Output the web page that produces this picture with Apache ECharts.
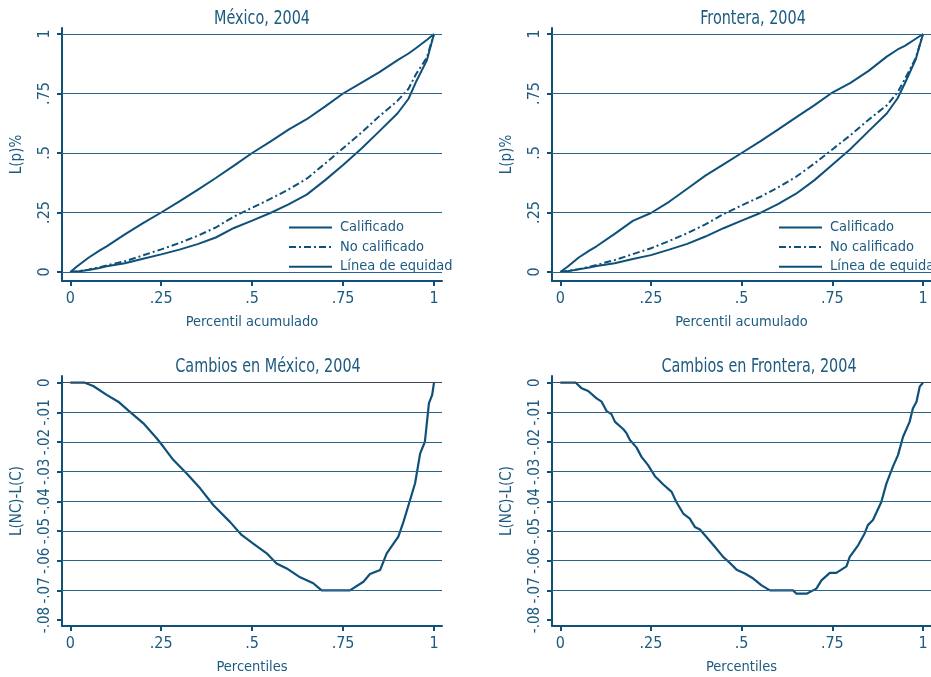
<!DOCTYPE html>
<html>
<head>
<meta charset="utf-8">
<script src="https://cdn.jsdelivr.net/npm/echarts@6/dist/echarts.min.js"></script>
<style>html,body{margin:0;padding:0;background:#fff;}#c{width:931px;height:677px;}</style>
</head>
<body>
<div id="c"></div>
<script>
// ---- data ----
var pctTop = [0,0.02,0.05,0.08,0.1,0.15,0.2,0.25,0.3,0.35,0.4,0.45,0.5,0.55,0.6,0.65,0.7,0.75,0.8,0.85,0.9,0.93,0.95,0.98,1];
var mxEquidad = [0,0.025,0.06,0.09,0.108,0.158,0.205,0.25,0.297,0.345,0.395,0.447,0.5,0.548,0.598,0.642,0.695,0.75,0.795,0.84,0.89,0.918,0.94,0.975,1];
var mxNoCalif = [0,0.003,0.01,0.02,0.028,0.045,0.07,0.095,0.122,0.152,0.187,0.233,0.27,0.307,0.347,0.392,0.455,0.52,0.585,0.655,0.72,0.77,0.83,0.9,1];
var mxCalif   = [0,0.002,0.008,0.017,0.024,0.037,0.056,0.074,0.094,0.117,0.145,0.185,0.216,0.248,0.284,0.325,0.385,0.45,0.518,0.592,0.667,0.728,0.797,0.888,1];
var frEquidad = [0,0.022,0.06,0.09,0.108,0.16,0.215,0.248,0.295,0.35,0.405,0.452,0.5,0.548,0.598,0.65,0.7,0.754,0.795,0.845,0.905,0.935,0.95,0.98,1];
var frNoCalif = [0,0.004,0.012,0.022,0.03,0.05,0.075,0.1,0.13,0.163,0.2,0.243,0.28,0.315,0.355,0.4,0.455,0.515,0.575,0.64,0.7,0.755,0.81,0.9,1];
var frCalif   = [0,0.003,0.011,0.019,0.025,0.037,0.055,0.071,0.094,0.118,0.149,0.184,0.216,0.247,0.285,0.329,0.385,0.451,0.517,0.592,0.666,0.73,0.793,0.894,1];

var pctMx = [0,0.04,0.063,0.1,0.132,0.16,0.201,0.238,0.256,0.283,0.32,0.357,0.393,0.439,0.471,0.503,0.54,0.567,0.595,0.632,0.668,0.691,0.769,0.806,0.824,0.852,0.87,0.902,0.916,0.934,0.948,0.962,0.975,0.986,0.995,1];
var diffMx = [0,0,-0.0011,-0.0041,-0.0064,-0.0094,-0.0137,-0.0188,-0.0216,-0.026,-0.0306,-0.0356,-0.0412,-0.0469,-0.0513,-0.0542,-0.0575,-0.0609,-0.0626,-0.0656,-0.0676,-0.07,-0.07,-0.0671,-0.0645,-0.0631,-0.0575,-0.0519,-0.0469,-0.0396,-0.0339,-0.0238,-0.0199,-0.007,-0.0041,0];
var pctFr = [0,0.043,0.059,0.077,0.1,0.114,0.128,0.141,0.151,0.174,0.183,0.192,0.21,0.224,0.242,0.261,0.284,0.307,0.32,0.339,0.357,0.371,0.385,0.403,0.426,0.449,0.467,0.486,0.509,0.532,0.555,0.578,0.642,0.651,0.679,0.706,0.72,0.743,0.761,0.789,0.798,0.821,0.839,0.848,0.862,0.885,0.899,0.917,0.931,0.945,0.963,0.972,0.982,0.991,1];
var diffFr = [0,0,-0.0019,-0.0028,-0.0053,-0.0064,-0.0096,-0.0106,-0.0132,-0.0157,-0.0171,-0.0193,-0.0218,-0.025,-0.0278,-0.0315,-0.0343,-0.0368,-0.0402,-0.0441,-0.0458,-0.0486,-0.0495,-0.052,-0.0553,-0.0587,-0.0607,-0.063,-0.0643,-0.066,-0.0683,-0.07,-0.07,-0.0711,-0.0711,-0.0694,-0.0666,-0.0641,-0.0641,-0.0619,-0.0587,-0.0548,-0.0508,-0.048,-0.0463,-0.0402,-0.034,-0.0283,-0.0244,-0.0182,-0.0132,-0.0087,-0.0064,-0.0013,0];

var xTicks = [0,0.25,0.5,0.75,1];
var yTicksTop = [0,0.25,0.5,0.75,1];
var yTicksBottom = [0,-0.01,-0.02,-0.03,-0.04,-0.05,-0.06,-0.07,-0.08];
var yGridBottom = [-0.01,-0.02,-0.03,-0.04,-0.05,-0.06,-0.07];

var titles = ['México, 2004','Frontera, 2004','Cambios en México, 2004','Cambios en Frontera, 2004'];
var legendNames = ['Calificado','No calificado','Línea de equidad'];

// ---- style ----
var LINE = '#0f5079';
var TEXT = '#1d5a80';
var GRID = '#2a6388';
var FONT = '"DejaVu Sans Condensed","Liberation Sans Narrow","Noto Sans",sans-serif';

function zip(a,b){ return a.map(function(v,i){ return [v,b[i]]; }); }
function fmt(v){ var s = String(+v.toFixed(4)); return s.replace('0.', '.'); }

var grids = [
  {left:62, right:489, top:28, bottom:396},
  {left:552, right:0, top:28, bottom:396},
  {left:62, right:489, top:376, bottom:51},
  {left:552, right:0, top:376, bottom:51}
];

function xAx(i, name){
  return {
    type:'value', gridIndex:i, min:-0.0228, max:1.022,
    name:name, nameLocation:'middle', nameGap:34,
    nameTextStyle:{color:TEXT, fontSize:14.5, fontFamily:FONT},
    axisLine:{show:true, onZero:false, lineStyle:{color:LINE, width:2}},
    axisTick:{show:true, length:5, customValues:xTicks, lineStyle:{color:LINE, width:2}},
    axisLabel:{customValues:xTicks, formatter:fmt, color:TEXT, fontSize:16, fontFamily:FONT, margin:10},
    splitLine:{show:false}
  };
}
function yAx(i, name, min, max, ticks, fs){
  return {
    type:'value', gridIndex:i, min:min, max:max,
    name:name, nameLocation:'middle', nameGap:37,
    nameTextStyle:{color:TEXT, fontSize:15, fontFamily:FONT},
    axisLine:{show:true, onZero:false, lineStyle:{color:LINE, width:2}},
    axisTick:{show:true, length:5, customValues:ticks, lineStyle:{color:LINE, width:2}},
    axisLabel:{customValues:ticks, formatter:fmt, rotate:90, color:TEXT, fontSize:fs, fontFamily:FONT, margin:9},
    splitLine:{show:false}
  };
}
function gridMark(vals, zeroDark){
  var d = vals.map(function(v){ return {yAxis:v}; });
  if (zeroDark) d.push({yAxis:0, lineStyle:{color:'#3d4a55', width:1.2}});
  return {silent:true, symbol:'none', animation:false, label:{show:false},
          lineStyle:{color:GRID, width:1.2, type:'solid'}, data:d};
}
function lorenzSeries(i, eq, nc, c){
  return [
    {name:'Calificado', type:'line', xAxisIndex:i, yAxisIndex:i, data:zip(pctTop,c), symbol:'none',
     lineStyle:{color:LINE, width:2}, itemStyle:{color:LINE}, markLine:gridMark(yTicksTop,false), z:3},
    {name:'No calificado', type:'line', xAxisIndex:i, yAxisIndex:i, data:zip(pctTop,nc), symbol:'none',
     lineStyle:{color:LINE, width:2, type:[7,3,2,3]}, itemStyle:{color:LINE}, z:3},
    {name:'Línea de equidad', type:'line', xAxisIndex:i, yAxisIndex:i, data:zip(pctTop,eq), symbol:'none',
     lineStyle:{color:LINE, width:2}, itemStyle:{color:LINE}, z:3}
  ];
}
function legendAt(left){
  return {data:legendNames, orient:'vertical', left:left, top:220, itemWidth:43, itemHeight:14, itemGap:4.6,
          selectedMode:false, padding:0,
          itemStyle:{opacity:0, borderWidth:0},
          textStyle:{color:TEXT, fontSize:14.5, fontFamily:FONT, padding:[0,0,0,3]}};
}
function titleText(x,y,t){
  return {type:'text', x:x, y:y, scaleX:0.8, scaleY:1,
          style:{text:t, fill:TEXT, font:'20px '+FONT, textAlign:'center', textVerticalAlign:'middle'}};
}

var series = [].concat(
  lorenzSeries(0, mxEquidad, mxNoCalif, mxCalif),
  lorenzSeries(1, frEquidad, frNoCalif, frCalif),
  [
    {name:'dMx', type:'line', xAxisIndex:2, yAxisIndex:2, data:zip(pctMx,diffMx), symbol:'none',
     lineStyle:{color:LINE, width:2.2}, markLine:gridMark(yGridBottom,true), z:3},
    {name:'dFr', type:'line', xAxisIndex:3, yAxisIndex:3, data:zip(pctFr,diffFr), symbol:'none',
     lineStyle:{color:LINE, width:2.2}, markLine:gridMark(yGridBottom,true), z:3}
  ]
);

var option = {
  animation:false,
  backgroundColor:'#fff',
  grid:grids,
  xAxis:[xAx(0,'Percentil acumulado'), xAx(1,'Percentil acumulado'), xAx(2,'Percentiles'), xAx(3,'Percentiles')],
  yAxis:[
    yAx(0,'L(p)%',-0.0378,1.0252,yTicksTop,16),
    yAx(1,'L(p)%',-0.0378,1.0252,yTicksTop,16),
    yAx(2,'L(NC)-L(C)',-0.082,0.00226,yTicksBottom,15),
    yAx(3,'L(NC)-L(C)',-0.082,0.00226,yTicksBottom,15)
  ],
  legend:[legendAt(288), legendAt(778)],
  graphic:[titleText(262,19,titles[0]), titleText(753,19,titles[1]), titleText(268,367,titles[2]), titleText(759,367,titles[3])],
  series:series
};
var chart = echarts.init(document.getElementById('c'), null, {renderer:'canvas'});
chart.setOption(option);
</script>
</body>
</html>
